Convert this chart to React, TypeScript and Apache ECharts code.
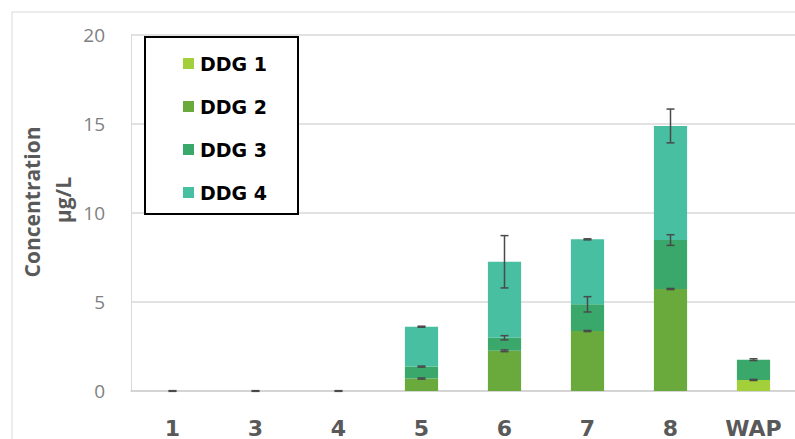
import React, { useEffect, useRef } from "react";
import * as echarts from "echarts";

const categories = ["1", "3", "4", "5", "6", "7", "8", "WAP"];
const seriesNames = ["DDG 1", "DDG 2", "DDG 3", "DDG 4"];
const ddg1 = [0, 0, 0, 0, 0, 0, 0, 0.62];
const ddg2 = [0, 0, 0, 0.7, 2.26, 3.37, 5.73, 0];
const ddg3 = [0, 0, 0, 0.67, 0.73, 1.5, 2.75, 1.14];
const ddg4 = [0, 0, 0, 2.24, 4.27, 3.65, 6.41, 0];
const err1 = [null, null, null, null, null, null, null, 0.03];
const err2 = [null, null, null, 0.03, 0.05, 0.03, 0.03, null];
const err3 = [null, null, null, 0.03, 0.12, 0.43, 0.3, 0.05];
const err4 = [0.02, 0.02, 0.02, 0.03, 1.47, 0.03, 0.95, null];
const yTicks = [0, 5, 10, 15, 20];
const colors = ["#a3cf3b", "#6aaa3c", "#3aa76b", "#47bfa0"];

export default function App() {
  const ref = useRef<HTMLDivElement>(null);
  useEffect(() => {
    if (!ref.current) return;
    const chart = echarts.init(ref.current, undefined, { renderer: "svg" });
    const values = [ddg1, ddg2, ddg3, ddg4];
    const errs = [err1, err2, err3, err4];
    const errData: any[] = [];
    categories.forEach((_, i) => {
      let cum = 0;
      values.forEach((arr, s) => {
        cum += arr[i];
        const e = errs[s][i];
        if (e !== null && e !== undefined) errData.push([i, cum, e]);
      });
    });
    const barSeries = values.map((arr, s) => ({
      name: seriesNames[s],
      type: "bar",
      stack: "total",
      barWidth: "40%",
      data: arr,
      itemStyle: { color: colors[s] },
    }));
    chart.setOption({
      animation: false,
      color: colors,
      grid: { left: 131, top: 35, bottom: 48, width: 668 },
      legend: {
        orient: "vertical",
        left: 178,
        top: 49,
        z: 20,
        itemGap: 24,
        itemWidth: 11,
        itemHeight: 11,
        icon: "rect",
        data: seriesNames,
        textStyle: { fontFamily: "DejaVu Sans", fontWeight: "bold", fontSize: 19, color: "#000", padding: [0, 0, 0, 1] },
      },
      graphic: [
        { type: "rect", shape: { x: 12, y: 12, width: 800, height: 440 }, style: { fill: "none", stroke: "#d9d9d9", lineWidth: 1 }, z: -1 },
        { type: "rect", shape: { x: 145, y: 37, width: 153, height: 177 }, style: { fill: "#fff", stroke: "#000", lineWidth: 2 }, z: 5 },
        { type: "text", x: 32, y: 202, rotation: Math.PI / 2, style: { text: "Concentration", fontFamily: "Open Sans", fontWeight: "bold", fontSize: 21, fill: "#595959", align: "center", verticalAlign: "middle" } },
        { type: "text", x: 63, y: 200, rotation: Math.PI / 2, style: { text: "µg/L", fontFamily: "Open Sans", fontWeight: "bold", fontSize: 21, fill: "#595959", align: "center", verticalAlign: "middle" } },
      ],
      xAxis: {
        type: "category",
        data: categories,
        axisTick: { show: false },
        axisLine: { lineStyle: { color: "#d0d0d0", width: 1.5 } },
        axisLabel: { margin: 26, fontFamily: "DejaVu Sans", fontWeight: "bold", fontSize: 22, color: "#595959" },
      },
      yAxis: {
        type: "value",
        min: yTicks[0],
        max: yTicks[yTicks.length - 1],
        interval: 5,
        axisLine: { show: true, lineStyle: { color: "#d9d9d9" } },
        axisTick: { show: false },
        splitLine: { lineStyle: { color: "#d9d9d9", width: 1.5 } },
        axisLabel: { margin: 26, fontFamily: "Open Sans", fontSize: 19, color: "#7f7f7f" },
      },
      series: [
        ...barSeries,
        {
          type: "custom",
          name: "err",
          data: errData,
          z: 10,
          renderItem: (params: any, api: any) => {
            const i = api.value(0);
            const top = api.value(1);
            const e = api.value(2);
            const hi = api.coord([i, top + e]);
            const lo = api.coord([i, top - e]);
            const x = hi[0];
            const hw = 4;
            const style = { stroke: "#4a4a4a", lineWidth: 1.5 };
            return {
              type: "group",
              children: [
                { type: "line", shape: { x1: x, y1: hi[1], x2: x, y2: lo[1] }, style },
                { type: "line", shape: { x1: x - hw, y1: hi[1], x2: x + hw, y2: hi[1] }, style },
                { type: "line", shape: { x1: x - hw, y1: lo[1], x2: x + hw, y2: lo[1] }, style },
              ],
            };
          },
        },
      ],
    });
    return () => chart.dispose();
  }, []);
  return <div ref={ref} style={{ width: 795, height: 439, position: "absolute", left: 0, top: 0, background: "#fff" }} />;
}
